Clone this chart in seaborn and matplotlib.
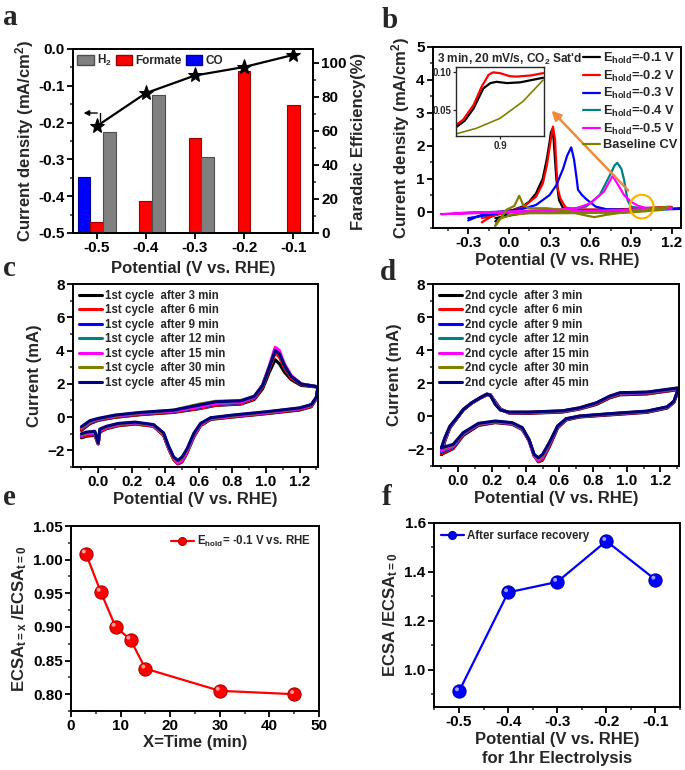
import numpy as np
import pandas as pd
import seaborn as sns
import matplotlib
matplotlib.use("Agg")
import matplotlib.pyplot as plt
from matplotlib.patches import Patch
from matplotlib.ticker import MultipleLocator
from matplotlib.transforms import offset_copy

# ---------------- data ----------------
# panel a
potentials_a = ["-0.5", "-0.4", "-0.3", "-0.2", "-0.1"]
fe_co = [33, 0.4, 0, 0, 0]
fe_formate = [6.5, 18.6, 56, 95, 75]
fe_h2 = [59, 81, 44.5, 0, 0]
current_density = [-0.21, -0.12, -0.072, -0.049, -0.016]

# panel b (stripping CVs after holding)
b_black_x = [-0.10, -0.05, 0.00, 0.05, 0.10, 0.15, 0.20, 0.25, 0.28, 0.30, 0.31, 0.32, 0.33, 0.35, 0.37, 0.40, 0.45, 0.60, 0.80, 0.90, 1.00, 1.10, 1.20, 1.20, 1.00, 0.80, 0.40, 0.10, -0.10]
b_black_y = [-0.30, -0.15, -0.02, 0.08, 0.15, 0.30, 0.55, 1.00, 1.60, 2.10, 2.40, 2.50, 2.20, 1.00, 0.35, 0.10, 0.06, 0.05, 0.06, 0.08, 0.10, 0.12, 0.14, 0.10, 0.06, 0.03, 0.00, -0.05, -0.20]
b_red_x = [-0.20, -0.15, -0.10, 0.00, 0.10, 0.20, 0.25, 0.28, 0.31, 0.325, 0.34, 0.35, 0.36, 0.38, 0.40, 0.42, 0.50, 0.80, 1.00, 1.20, 1.20, 0.80, 0.40, 0.00, -0.20]
b_red_y = [-0.33, -0.20, -0.10, 0.02, 0.12, 0.45, 0.85, 1.40, 2.20, 2.58, 2.20, 1.40, 0.70, 0.40, 0.25, 0.12, 0.06, 0.06, 0.10, 0.14, 0.10, 0.04, 0.02, -0.02, -0.20]
b_blue_x = [-0.30, -0.20, -0.10, 0.00, 0.10, 0.20, 0.30, 0.35, 0.40, 0.43, 0.46, 0.48, 0.50, 0.51, 0.54, 0.57, 0.64, 0.72, 0.89, 1.27, 1.27, 0.90, 0.40, 0.00, -0.30]
b_blue_y = [-0.27, -0.10, -0.02, 0.03, 0.08, 0.20, 0.50, 0.80, 1.30, 1.70, 1.95, 1.60, 1.00, 0.66, 0.50, 0.38, 0.15, 0.07, 0.05, 0.10, 0.08, 0.04, 0.02, 0.00, -0.20]
b_teal_x = [-0.40, -0.20, 0.00, 0.20, 0.40, 0.57, 0.67, 0.74, 0.78, 0.80, 0.83, 0.85, 0.875, 0.90, 1.00, 1.20, 1.20, 0.80, 0.40, 0.00, -0.40]
b_teal_y = [-0.05, -0.02, 0.00, 0.02, 0.05, 0.15, 0.50, 1.06, 1.40, 1.48, 1.30, 0.96, 0.35, 0.15, 0.08, 0.10, 0.08, 0.03, 0.00, -0.02, -0.05]
b_mag_x = [-0.50, -0.30, 0.00, 0.30, 0.50, 0.60, 0.70, 0.765, 0.80, 0.85, 0.90, 0.95, 1.00, 1.10, 1.20, 1.20, 0.80, 0.40, 0.00, -0.50]
b_mag_y = [-0.08, -0.04, 0.00, 0.05, 0.10, 0.25, 0.60, 1.08, 0.85, 0.50, 0.30, 0.18, 0.12, 0.10, 0.12, 0.10, 0.04, 0.01, -0.02, -0.08]
b_base_x = [-0.10, -0.05, -0.02, 0.04, 0.076, 0.09, 0.105, 0.15, 0.28, 0.40, 0.545, 0.63, 0.72, 0.89, 1.00, 1.18, 1.13, 0.89, 0.40, 0.15, 0.02, -0.07, -0.10]
b_base_y = [-0.43, -0.15, 0.05, 0.17, 0.48, 0.35, 0.20, 0.10, 0.10, 0.05, -0.10, -0.17, -0.10, 0.00, 0.05, 0.15, 0.05, -0.03, -0.05, -0.05, -0.10, -0.22, -0.43]
b_labels = ["E$_{hold}$=-0.1 V", "E$_{hold}$=-0.2 V", "E$_{hold}$=-0.3 V",
            "E$_{hold}$=-0.4 V", "E$_{hold}$=-0.5 V", "Baseline CV"]

# panel b inset
ins_red_x = [0.85, 0.858, 0.870, 0.879, 0.887, 0.892, 0.900, 0.911, 0.919, 0.935, 0.949]
ins_red_y = [0.0304, 0.037, 0.0565, 0.080, 0.0957, 0.099, 0.098, 0.094, 0.0935, 0.095, 0.098]
ins_black_x = [0.85, 0.860, 0.870, 0.881, 0.889, 0.896, 0.908, 0.923, 0.949]
ins_black_y = [0.0275, 0.036, 0.052, 0.078, 0.085, 0.0867, 0.085, 0.086, 0.092]
ins_base_x = [0.85, 0.873, 0.90, 0.926, 0.949]
ins_base_y = [0.0187, 0.026, 0.039, 0.061, 0.089]

# panel c (1st cycle)
c_x = [-0.10, -0.05, 0.00, 0.10, 0.25, 0.45, 0.60, 0.70, 0.85, 0.93, 0.98, 1.02, 1.055, 1.08, 1.11, 1.15, 1.21, 1.31,
       1.30, 1.27, 1.20, 1.00, 0.80, 0.67, 0.61, 0.57, 0.53, 0.50, 0.475, 0.45, 0.42, 0.39, 0.33, 0.22, 0.12, 0.05, 0.01, 0.00, -0.02, -0.07, -0.10]
c_3min = [-0.80, -0.40, -0.20, -0.02, 0.14, 0.28, 0.50, 0.70, 0.78, 1.05, 1.70, 2.70, 3.45, 3.20, 2.70, 2.25, 1.90, 1.80,
          1.10, 0.62, 0.42, 0.20, 0.00, -0.14, -0.52, -1.20, -2.15, -2.70, -2.82, -2.55, -1.90, -1.10, -0.55, -0.42, -0.52, -0.70, -0.90, -1.62, -1.10, -1.15, -1.25]
c_6min = [-0.75, -0.36, -0.18, 0.00, 0.16, 0.30, 0.52, 0.72, 0.80, 1.10, 1.80, 2.90, 3.85, 3.60, 2.95, 2.35, 1.95, 1.80,
          1.10, 0.65, 0.45, 0.22, 0.02, -0.12, -0.50, -1.15, -2.10, -2.65, -2.80, -2.55, -1.90, -1.10, -0.55, -0.40, -0.50, -0.68, -0.88, -1.60, -1.05, -1.10, -1.20]
c_9min = [-0.70, -0.32, -0.15, 0.04, 0.20, 0.34, 0.58, 0.78, 0.86, 1.18, 1.90, 3.00, 4.00, 3.85, 3.10, 2.45, 1.98, 1.82,
          1.15, 0.70, 0.50, 0.26, 0.06, -0.08, -0.45, -1.10, -2.05, -2.60, -2.75, -2.50, -1.85, -1.05, -0.50, -0.36, -0.45, -0.62, -0.80, -1.60, -0.98, -1.02, -1.12]
c_12min = [-0.68, -0.30, -0.14, 0.05, 0.21, 0.35, 0.60, 0.80, 0.88, 1.20, 1.90, 3.00, 4.00, 3.80, 3.10, 2.45, 1.98, 1.82,
           1.15, 0.70, 0.50, 0.26, 0.06, -0.08, -0.45, -1.10, -2.05, -2.60, -2.75, -2.50, -1.85, -1.05, -0.50, -0.35, -0.45, -0.62, -0.80, -1.60, -0.95, -1.00, -1.10]
c_15min = [-0.66, -0.28, -0.12, 0.06, 0.22, 0.36, 0.62, 0.82, 0.90, 1.20, 1.95, 3.10, 4.20, 4.00, 3.20, 2.50, 2.00, 1.82,
           1.15, 0.70, 0.50, 0.26, 0.06, -0.08, -0.45, -1.10, -2.05, -2.60, -2.78, -2.50, -1.85, -1.05, -0.50, -0.35, -0.45, -0.62, -0.80, -1.60, -0.95, -1.00, -1.10]
c_30min = [-0.62, -0.25, -0.10, 0.10, 0.26, 0.42, 0.78, 0.95, 1.00, 1.25, 1.90, 3.00, 4.00, 3.80, 3.10, 2.45, 1.98, 1.82,
           1.20, 0.75, 0.55, 0.30, 0.10, -0.05, -0.40, -1.00, -1.95, -2.45, -2.65, -2.45, -1.80, -1.00, -0.48, -0.32, -0.40, -0.58, -0.75, -1.55, -0.90, -0.95, -1.05]
c_45min = [-0.58, -0.22, -0.08, 0.12, 0.28, 0.42, 0.72, 0.92, 0.98, 1.25, 1.90, 3.00, 4.00, 3.80, 3.10, 2.45, 1.98, 1.82,
           1.20, 0.75, 0.55, 0.32, 0.12, -0.04, -0.38, -0.98, -1.90, -2.40, -2.60, -2.40, -1.75, -0.95, -0.45, -0.30, -0.38, -0.55, -0.72, -1.55, -0.85, -0.90, -1.00]

# panel d (2nd cycle)
d_x = [-0.10, -0.08, -0.05, 0.00, 0.03, 0.08, 0.13, 0.17, 0.19, 0.22, 0.25, 0.30, 0.42, 0.62, 0.72, 0.82, 0.90, 0.96, 1.12, 1.21, 1.31,
       1.30, 1.28, 1.24, 1.12, 0.92, 0.72, 0.64, 0.59, 0.54, 0.50, 0.475, 0.45, 0.42, 0.38, 0.32, 0.22, 0.12, 0.03, -0.03, -0.10]
d_3min = [-2.30, -1.50, -0.70, -0.02, 0.38, 0.80, 1.10, 1.30, 1.30, 0.88, 0.45, 0.20, 0.18, 0.26, 0.44, 0.72, 1.12, 1.30, 1.35, 1.48, 1.62,
          1.40, 0.85, 0.50, 0.24, 0.10, -0.04, -0.22, -0.70, -1.85, -2.65, -2.75, -2.35, -1.45, -0.80, -0.48, -0.38, -0.55, -1.15, -1.95, -2.30]
d_6min = [-2.25, -1.48, -0.68, 0.00, 0.40, 0.80, 1.10, 1.30, 1.30, 0.85, 0.44, 0.21, 0.20, 0.28, 0.46, 0.75, 1.15, 1.33, 1.38, 1.50, 1.64,
          1.42, 0.86, 0.52, 0.26, 0.12, -0.02, -0.20, -0.66, -1.80, -2.62, -2.72, -2.35, -1.45, -0.78, -0.46, -0.36, -0.52, -1.10, -1.92, -2.25]
d_9min = [-2.15, -1.42, -0.65, 0.00, 0.40, 0.81, 1.12, 1.32, 1.30, 0.82, 0.42, 0.22, 0.22, 0.30, 0.48, 0.78, 1.18, 1.38, 1.42, 1.54, 1.68,
          1.45, 0.88, 0.54, 0.28, 0.14, 0.00, -0.18, -0.62, -1.72, -2.52, -2.68, -2.35, -1.45, -0.76, -0.44, -0.34, -0.50, -1.06, -1.85, -2.15]
d_12min = [-2.10, -1.40, -0.64, 0.01, 0.41, 0.81, 1.12, 1.33, 1.30, 0.80, 0.41, 0.23, 0.23, 0.31, 0.49, 0.79, 1.19, 1.39, 1.43, 1.55, 1.69,
           1.46, 0.89, 0.55, 0.29, 0.15, 0.00, -0.17, -0.62, -1.70, -2.50, -2.66, -2.35, -1.45, -0.75, -0.43, -0.33, -0.48, -1.04, -1.82, -2.10]
d_15min = [-2.05, -1.38, -0.62, 0.01, 0.41, 0.82, 1.12, 1.34, 1.30, 0.78, 0.40, 0.24, 0.24, 0.32, 0.50, 0.80, 1.20, 1.40, 1.44, 1.56, 1.70,
           1.47, 0.90, 0.56, 0.30, 0.16, 0.01, -0.16, -0.60, -1.66, -2.45, -2.66, -2.40, -1.50, -0.74, -0.42, -0.32, -0.47, -1.02, -1.78, -2.05]
d_30min = [-1.95, -1.32, -0.60, 0.02, 0.42, 0.82, 1.13, 1.35, 1.29, 0.74, 0.39, 0.25, 0.25, 0.33, 0.51, 0.81, 1.22, 1.42, 1.46, 1.58, 1.72,
           1.48, 0.91, 0.57, 0.31, 0.17, 0.02, -0.15, -0.58, -1.62, -2.35, -2.55, -2.32, -1.42, -0.70, -0.40, -0.30, -0.44, -1.00, -1.72, -1.95]
d_45min = [-1.90, -1.30, -0.60, 0.02, 0.42, 0.82, 1.13, 1.35, 1.28, 0.72, 0.38, 0.26, 0.26, 0.34, 0.52, 0.82, 1.23, 1.43, 1.47, 1.59, 1.73,
           1.50, 0.92, 0.58, 0.32, 0.18, 0.02, -0.14, -0.58, -1.59, -2.30, -2.50, -2.30, -1.40, -0.68, -0.38, -0.28, -0.42, -0.98, -1.69, -1.90]

cycle_minutes = [3, 6, 9, 12, 15, 30, 45]
cycle_colors = ["#000000", "#ff0000", "#0000ff", "#008080", "#ff00ff", "#808000", "#000080"]

# panel e
time_min = [3, 6, 9, 12, 15, 30, 45]
ecsa_ratio_time = [1.009, 0.952, 0.900, 0.881, 0.838, 0.805, 0.800]

# panel f
potentials_f = [-0.5, -0.4, -0.3, -0.2, -0.1]
ecsa_ratio_pot = [0.911, 1.316, 1.359, 1.526, 1.368]

# ---------------- style ----------------
sns.set_theme(style="ticks")
plt.rcParams["font.family"] = ["Liberation Sans", "DejaVu Sans"]
plt.rcParams["font.weight"] = "bold"
plt.rcParams["axes.labelweight"] = "bold"
plt.rcParams["mathtext.fontset"] = "custom"
plt.rcParams["mathtext.rm"] = "Liberation Sans:bold"
plt.rcParams["mathtext.bf"] = "Liberation Sans:bold"
plt.rcParams["mathtext.it"] = "Liberation Sans:bold"
plt.rcParams["mathtext.default"] = "bf"

W, H = 685, 770
fig = plt.figure(figsize=(W / 100, H / 100), dpi=100)


def px_axes(l, t, r, b):
    return fig.add_axes([l / W, 1 - b / H, (r - l) / W, (b - t) / H])


def style_axes(ax, size=11):
    for s in ax.spines.values():
        s.set_linewidth(1.4)
        s.set_color("black")
    ax.tick_params(which="major", width=1.3, length=4, labelsize=size, pad=2, colors="black")
    ax.tick_params(which="minor", width=1.1, length=2.5)


def panel_letter(x, y, s):
    fig.text(x / W, 1 - y / H, s, fontsize=21, fontweight="bold",
             family=["Liberation Serif", "DejaVu Serif"], va="baseline")


# ---------------- panel a ----------------
ax_a = px_axes(73, 49, 313, 233)
ax_a2 = ax_a.twinx()
df_a = pd.DataFrame({
    "potential": potentials_a * 3,
    "fe": fe_co + fe_formate + fe_h2,
    "product": ["CO"] * 5 + ["Formate"] * 5 + ["H2"] * 5,
})
pal_a = {"CO": "#0000ff", "Formate": "#ff0000", "H2": "#808080"}
sns.barplot(data=df_a, x="potential", y="fe", hue="product", hue_order=["CO", "Formate", "H2"],
            order=potentials_a, palette=pal_a, width=0.77, saturation=1, legend=False, ax=ax_a2)
for p in ax_a2.patches:
    fc = p.get_facecolor()
    p.set_edgecolor(tuple(c * 0.6 for c in fc[:3]))
    p.set_linewidth(0.8)
pos_a = list(range(len(potentials_a)))
sns.lineplot(x=pos_a, y=current_density, color="black", lw=1.6, marker="*", markersize=11,
             markeredgecolor="black", ax=ax_a)
ax_a.set_zorder(ax_a2.get_zorder() + 1)
ax_a.patch.set_visible(False)
ax_a.set_ylim(-0.5, 0.0)
ax_a2.set_ylim(0, 108)
ax_a.set_xlim(-0.48, 4.4)
ax_a.set_xticks(pos_a)
ax_a.set_xticklabels(potentials_a)
ax_a.yaxis.set_major_locator(MultipleLocator(0.1))
ax_a.yaxis.set_minor_locator(MultipleLocator(0.05))
ax_a.set_yticklabels([f"{v:.1f}" for v in ax_a.get_yticks()])
ax_a2.yaxis.set_major_locator(MultipleLocator(20))
ax_a2.yaxis.set_minor_locator(MultipleLocator(10))
ax_a.set_ylabel("Current density (mA/cm$^2$)", fontsize=12, labelpad=2)
ax_a2.set_ylabel("Faradaic Efficiency(%)", fontsize=12, labelpad=3)
ax_a.set_xlabel("Potential (V vs. RHE)", fontsize=12, labelpad=4)
ax_a2.set_xlabel("")
style_axes(ax_a)
style_axes(ax_a2)
# arrow pointing at the left axis
ax_a.plot([0.07, 0.07], [-0.197, -0.174], color="black", lw=1)
ax_a.annotate("", xy=(-0.32, -0.174), xytext=(0.07, -0.174),
              arrowprops=dict(arrowstyle="-|>", color="black", lw=1, mutation_scale=8))
handles_a = [Patch(facecolor="#808080", edgecolor="#4d4d4d", label="H$_2$"),
             Patch(facecolor="#ff0000", edgecolor="#990000", label="Formate"),
             Patch(facecolor="#0000ff", edgecolor="#000099", label="CO")]
ax_a.legend(handles=handles_a, loc="upper left", ncol=3, frameon=False, fontsize=8.5,
            handlelength=1.4, handleheight=0.9, handletextpad=0.25, columnspacing=0.35,
            borderaxespad=0.15, borderpad=0.2)

# ---------------- panel b ----------------
ax_b = px_axes(433, 47, 681, 228)
b_sets = [(b_black_x, b_black_y, "#000000"), (b_red_x, b_red_y, "#ff0000"),
          (b_blue_x, b_blue_y, "#0000ff"), (b_teal_x, b_teal_y, "#008080"),
          (b_mag_x, b_mag_y, "#ff00ff"), (b_base_x, b_base_y, "#808000")]
for (bx, by, col), lab in zip(b_sets, b_labels):
    sns.lineplot(x=bx, y=by, sort=False, estimator=None, color=col, lw=1.6, label=lab, ax=ax_b)
ax_b.set_xlim(-0.56, 1.27)
ax_b.set_ylim(-0.5, 5)
ax_b.xaxis.set_major_locator(MultipleLocator(0.3))
ax_b.xaxis.set_minor_locator(MultipleLocator(0.15))
ax_b.yaxis.set_major_locator(MultipleLocator(1))
ax_b.yaxis.set_minor_locator(MultipleLocator(0.5))
ax_b.set_xticks([-0.3, 0.0, 0.3, 0.6, 0.9, 1.2])
ax_b.set_xticklabels(["-0.3", "0.0", "0.3", "0.6", "0.9", "1.2"])
ax_b.set_xlabel("Potential (V vs. RHE)", fontsize=12, labelpad=2)
ax_b.set_ylabel("Current density (mA/cm$^2$)", fontsize=12, labelpad=3)
style_axes(ax_b)
ax_b.legend(loc="upper right", frameon=False, fontsize=9.3, handlelength=1.25, handletextpad=0.25,
            labelspacing=0.2, borderaxespad=0.1, borderpad=0.2)
ax_b.text(0.015, 0.975, "3 min, 20 mV/s, CO$_2$ Sat'd", transform=ax_b.transAxes, fontsize=8.6,
          ha="left", va="top")
ax_b.annotate("", xy=(0.30, 3.13), xytext=(0.895, 0.58),
              arrowprops=dict(arrowstyle="-|>", color="#f08a3c", lw=1.8, mutation_scale=14))
ax_b.scatter([0.98], [0.15], s=290, facecolors="none", edgecolors="#f7b500", linewidths=1.6, zorder=5)

ax_in = px_axes(456, 67, 544, 136)
sns.lineplot(x=ins_base_x, y=ins_base_y, sort=False, estimator=None, color="#808000", lw=1.2, ax=ax_in)
sns.lineplot(x=ins_black_x, y=ins_black_y, sort=False, estimator=None, color="black", lw=1.6, ax=ax_in)
sns.lineplot(x=ins_red_x, y=ins_red_y, sort=False, estimator=None, color="#ff0000", lw=1.6, ax=ax_in)
ax_in.set_xlim(0.85, 0.95)
ax_in.set_ylim(0.016, 0.106)
ax_in.set_xticks([0.9])
ax_in.set_xticklabels(["0.9"])
ax_in.set_yticks([0.05, 0.10])
ax_in.set_yticklabels(["0.05", "0.10"])
for s in ax_in.spines.values():
    s.set_linewidth(1.0)
ax_in.tick_params(labelsize=7, length=2.5, width=0.9, pad=1)

# ---------------- panels c, d ----------------
c_series = [c_3min, c_6min, c_9min, c_12min, c_15min, c_30min, c_45min]
d_series = [d_3min, d_6min, d_9min, d_12min, d_15min, d_30min, d_45min]
ax_c = px_axes(73, 284, 318, 467)
ax_d = px_axes(433, 284, 679, 466)
for ax, xs, series, cyc in [(ax_c, c_x, c_series, "1st"), (ax_d, d_x, d_series, "2nd")]:
    for ys, col, m in zip(series, cycle_colors, cycle_minutes):
        sns.lineplot(x=xs, y=ys, sort=False, estimator=None, color=col, lw=2.2,
                     label=f"{cyc} cycle  after {m} min", ax=ax)
    ax.set_xlim(-0.15, 1.31)
    ax.set_ylim(-3, 8)
    ax.xaxis.set_major_locator(MultipleLocator(0.2))
    ax.xaxis.set_minor_locator(MultipleLocator(0.1))
    ax.yaxis.set_major_locator(MultipleLocator(2))
    ax.yaxis.set_minor_locator(MultipleLocator(1))
    ax.set_xticks([0.0, 0.2, 0.4, 0.6, 0.8, 1.0, 1.2])
    ax.set_xticklabels(["0.0", "0.2", "0.4", "0.6", "0.8", "1.0", "1.2"])
    ax.set_xlabel("Potential (V vs. RHE)", fontsize=12, labelpad=2)
    ax.set_ylabel("Current (mA)", fontsize=12, labelpad=4)
    style_axes(ax)
    ax.legend(loc="upper left", frameon=False, fontsize=8.3, handlelength=2.0, handletextpad=0.3,
              labelspacing=0.22, borderaxespad=0.2, borderpad=0.3)

# ---------------- panel e ----------------
ax_e = px_axes(71, 526, 319, 711)
sns.lineplot(x=time_min, y=ecsa_ratio_time, color="#ff0000", lw=1.6, marker="o", markersize=9.5,
             markeredgecolor="#b00000", markeredgewidth=0.8,
             label="E$_{hold}$= -0.1 V vs. RHE", ax=ax_e)
sns.scatterplot(x=time_min, y=ecsa_ratio_time, s=8, color="#ffb0b0", edgecolor="none", alpha=0.9,
                transform=offset_copy(ax_e.transData, fig=fig, x=-1.5, y=1.5, units="points"),
                ax=ax_e, zorder=5)
ax_e.set_xlim(0, 50)
ax_e.set_ylim(0.775, 1.05)
ax_e.xaxis.set_major_locator(MultipleLocator(10))
ax_e.xaxis.set_minor_locator(MultipleLocator(5))
ax_e.yaxis.set_major_locator(MultipleLocator(0.05))
ax_e.yaxis.set_minor_locator(MultipleLocator(0.025))
ax_e.set_yticks([0.80, 0.85, 0.90, 0.95, 1.00, 1.05])
ax_e.set_yticklabels(["0.80", "0.85", "0.90", "0.95", "1.00", "1.05"])
ax_e.set_xlabel("X=Time (min)", fontsize=12, labelpad=1)
ax_e.set_ylabel("ECSA$_{t=x}$ /ECSA$_{t=0}$", fontsize=12, labelpad=3)
style_axes(ax_e)
ax_e.legend(loc="upper right", frameon=False, fontsize=8.3, handlelength=2.0, handletextpad=0.3,
            borderaxespad=0.3, markerscale=0.6)

# ---------------- panel f ----------------
ax_f = px_axes(434, 523, 680, 707)
sns.lineplot(x=potentials_f, y=ecsa_ratio_pot, color="#0000ff", lw=1.6, marker="o", markersize=9.5,
             markeredgecolor="#0000a0", markeredgewidth=0.8,
             label="After surface recovery", ax=ax_f)
sns.scatterplot(x=potentials_f, y=ecsa_ratio_pot, s=8, color="#b0b0ff", edgecolor="none", alpha=0.9,
                transform=offset_copy(ax_f.transData, fig=fig, x=-1.5, y=1.5, units="points"),
                ax=ax_f, zorder=5)
ax_f.set_xlim(-0.551, -0.05)
ax_f.set_ylim(0.847, 1.6)
ax_f.set_xticks(potentials_f)
ax_f.set_xticklabels(["-0.5", "-0.4", "-0.3", "-0.2", "-0.1"])
ax_f.xaxis.set_minor_locator(MultipleLocator(0.05))
ax_f.set_yticks([1.0, 1.2, 1.4, 1.6])
ax_f.set_yticklabels(["1.0", "1.2", "1.4", "1.6"])
ax_f.yaxis.set_minor_locator(MultipleLocator(0.1))
ax_f.set_xlabel("Potential (V vs. RHE)\nfor 1hr Electrolysis", fontsize=12, labelpad=2, linespacing=1.3)
ax_f.set_ylabel("ECSA /ECSA$_{t=0}$", fontsize=12, labelpad=3)
style_axes(ax_f)
ax_f.legend(loc="upper left", frameon=False, fontsize=8.3, handlelength=2.0, handletextpad=0.3,
            borderaxespad=0.2, markerscale=0.6)

# ---------------- panel letters ----------------
panel_letter(3, 25, "a")
panel_letter(382, 28, "b")
panel_letter(3, 276, "c")
panel_letter(380, 280, "d")
panel_letter(3, 505, "e")
panel_letter(382, 505, "f")

fig.savefig("out.png", dpi=100)
